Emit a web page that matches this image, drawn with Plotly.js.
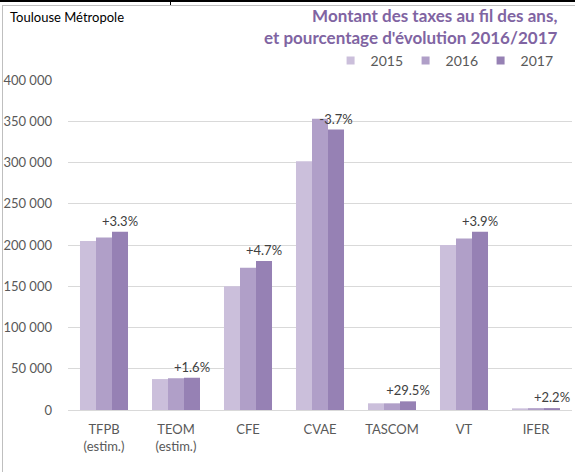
<!DOCTYPE html>
<html>
<head>
<meta charset="utf-8">
<script src="https://cdn.plot.ly/plotly-3.0.1.min.js"></script>
<style>
  html, body { margin: 0; padding: 0; background: #fff; }
  #chart { width: 575px; height: 472px; position: absolute; left: 0; top: 0; }
  .deco { position: absolute; pointer-events: none; }
</style>
</head>
<body>
<div id="chart"></div>
<div class="deco" style="left:0;top:0;width:575px;height:2px;background:#000;"></div>
<div class="deco" style="left:170px;top:0;width:1px;height:5px;background:#000;"></div>
<div class="deco" style="left:2px;top:5px;width:573px;height:1px;background:#bfbfbf;"></div>
<div class="deco" style="left:2px;top:5px;width:1px;height:467px;background:#bfbfbf;"></div>
<script>
const categories = ["TFPB<br>(estim.)", "TEOM<br>(estim.)", "CFE", "CVAE", "TASCOM", "VT", "IFER"];
const years = ["2015", "2016", "2017"];
const values2015 = [205000, 37500, 150000, 301500, 8100, 200000, 2000];
const values2016 = [209000, 38500, 172500, 353000, 8100, 208000, 2250];
const values2017 = [216000, 39100, 180600, 340000, 10500, 216000, 2300];
const evolutionLabels = ["+3.3%", "+1.6%", "+4.7%", "-3.7%", "+29.5%", "+3.9%", "+2.2%"];
const colors = ["#cbbfdb", "#b09fc8", "#9681b4"];

const FONT = "Lato, 'Liberation Sans', sans-serif";
const series = [values2015, values2016, values2017];

const traces = series.map((vals, i) => {
  const t = {
    type: "bar",
    name: years[i],
    x: categories,
    y: vals,
    marker: { color: colors[i], line: { width: 0 } },
    hoverinfo: "skip",
    showlegend: false
  };
  if (i === 2) {
    t.text = evolutionLabels;
    t.textposition = "outside";
    t.constraintext = "none";
    t.textfont = { family: FONT, size: 13, color: "#404040" };
    t.cliponaxis = false;
  }
  return t;
});

// legend entries (small squares like the reference)
years.forEach((yr, i) => {
  traces.push({
    type: "scatter",
    mode: "markers",
    name: yr,
    x: [null],
    y: [null],
    marker: { symbol: "square", size: 8, color: colors[i] },
    hoverinfo: "skip",
    showlegend: true
  });
});

const layout = {
  width: 575,
  height: 472,
  margin: { l: 68, r: 3, t: 80, b: 62 },
  paper_bgcolor: "rgba(0,0,0,0)",
  plot_bgcolor: "#fff",
  separators: ", ",
  font: { family: FONT, size: 13, color: "#595959" },
  bargap: 0.333,
  bargroupgap: 0,
  barmode: "group",
  showlegend: true,
  legend: {
    orientation: "h",
    x: 0.521, xanchor: "left",
    y: 1.0576, yanchor: "middle",
    entrywidth: 30,
    traceorder: "normal",
    font: { family: FONT, size: 14, color: "#595959" },
    itemclick: false
  },
  xaxis: {
    type: "category",
    showgrid: false,
    showline: true,
    linecolor: "#d9d9d9",
    linewidth: 1,
    ticks: "",
    ticklabelstandoff: 7,
    tickfont: { family: FONT, size: 13, color: "#595959" },
    fixedrange: true
  },
  yaxis: {
    range: [0, 400000],
    dtick: 50000,
    tick0: 0,
    tickformat: ",d",
    showgrid: true,
    gridcolor: "#d9d9d9",
    gridwidth: 1,
    zeroline: false,
    showline: false,
    ticks: "",
    ticklabelstandoff: 15,
    tickfont: { family: FONT, size: 13, color: "#595959" },
    fixedrange: true
  },
  annotations: [
    {
      xref: "paper", yref: "paper",
      x: -0.119, y: 1.191, xanchor: "left", yanchor: "middle",
      text: "Toulouse Métropole", showarrow: false,
      font: { family: FONT, size: 13, color: "#000" }
    },
    {
      xref: "paper", yref: "paper",
      x: 0.975, y: 1.232, xanchor: "right", yanchor: "top",
      align: "right",
      text: "<b>Montant des taxes au fil des ans,<br>et pourcentage d'évolution 2016/2017</b>",
      showarrow: false,
      font: { family: FONT, size: 17, color: "#8064a2" }
    }
  ]
};

Plotly.newPlot("chart", traces, layout, { displayModeBar: false, staticPlot: true });
</script>
</body>
</html>
